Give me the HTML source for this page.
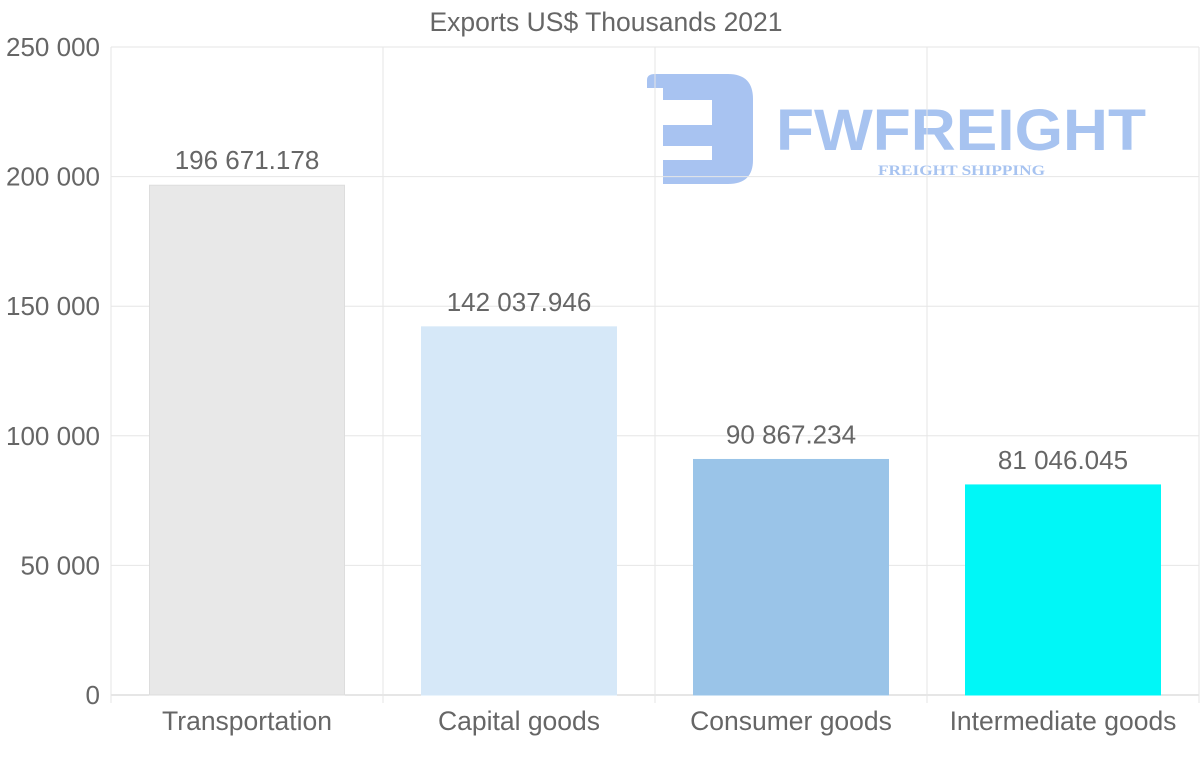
<!DOCTYPE html>
<html><head><meta charset="utf-8"><style>
body{margin:0;background:#fff;}
svg{display:block;font-family:"Liberation Sans",sans-serif;}
</style></head><body>
<svg id="chart" width="1200" height="763">
<g id="logo" opacity="0.45">
<path d="M647 80 Q647 74 655 74 L728 74 Q753 74 753 99 L753 160 Q753 184 728 184 L663 184 L663 160 L712 160 L712 146 L663 146 L663 125 L712 125 L712 100 L663 100 L663 88 L647 88 Z" fill="#3d7be0"/>
<text x="776" y="150" font-size="58" font-weight="bold" fill="#3d7be0" textLength="370" lengthAdjust="spacingAndGlyphs">FWFREIGHT</text>
<text x="878" y="175" font-size="15" font-weight="bold" fill="#3d7be0" font-family="Liberation Serif,serif" textLength="167" lengthAdjust="spacingAndGlyphs">FREIGHT SHIPPING</text>
</g>
<g id="grid"></g><g id="bars"></g><g id="labels"></g>
<text x="606" y="31" text-anchor="middle" font-size="26.5" fill="#666">Exports US$ Thousands 2021</text>
</svg>
<script>
const categories=["Transportation","Capital goods","Consumer goods","Intermediate goods"];
const values=[196671.178,142037.946,90867.234,81046.045];
const valueLabels=["196 671.178","142 037.946","90 867.234","81 046.045"];
const yTicks=[0,50000,100000,150000,200000,250000];
const yTickLabels=["0","50 000","100 000","150 000","200 000","250 000"];
const colors=["#e8e8e8","#d6e8f8","#9ac4e8","#00f7f7"];
const NS="http://www.w3.org/2000/svg";
const x0=111,x1=1199,yb=695,yt=47,ymax=250000;
const bw=(x1-x0)/categories.length;
function y(v){return yb-(v/ymax)*(yb-yt);}
function mk(t,a,p){const e=document.createElementNS(NS,t);for(const k in a)e.setAttribute(k,a[k]);p.appendChild(e);return e;}
const grid=document.getElementById('grid'),bars=document.getElementById('bars'),labels=document.getElementById('labels');
yTicks.forEach((t,i)=>{
 const l=mk('line',{x1:x0,x2:x1,y1:y(t),y2:y(t),stroke:i==0?'#ccc':'#e6e6e6'},grid);
 
 
 const tx=mk('text',{x:100,y:y(t)+9,'text-anchor':'end','font-size':26,fill:'#666'},labels);
 tx.textContent=yTickLabels[i];
 
 
});
for(let i=0;i<=categories.length;i++){
 const gx=x0+i*bw;
 const l=mk('line',{x1:gx,x2:gx,y1:yt,y2:yb+8,stroke:'#e6e6e6'},grid);
 
 
}
categories.forEach((c,i)=>{
 const cx=x0+bw*(i+0.5);
 const r=mk('rect',{x:cx-97.5,y:y(values[i]),width:195,height:yb-y(values[i]),fill:colors[i],stroke:colors[i]=="#e8e8e8"?"#ddd":colors[i]},bars);
 
 
 const v=mk('text',{x:cx,y:y(values[i])-16,'text-anchor':'middle','font-size':26,fill:'#666'},labels);
 v.textContent=valueLabels[i];
 
 
 const t=mk('text',{x:cx,y:730,'text-anchor':'middle','font-size':26.5,fill:'#666'},labels);
 t.textContent=c;
 
 
});
</script>
</body></html>
